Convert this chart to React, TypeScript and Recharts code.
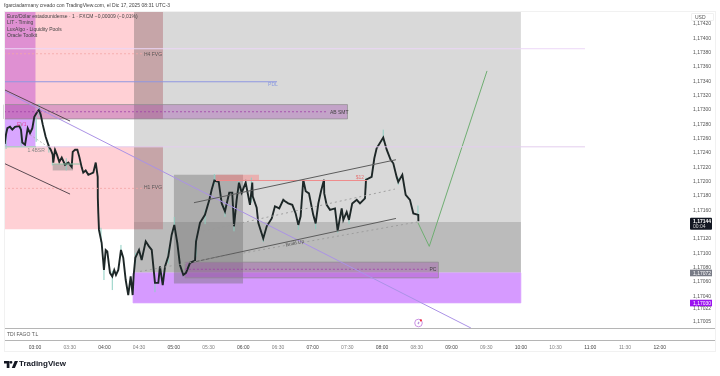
import React from "react";
import { ComposedChart, Line, XAxis, YAxis, ReferenceArea, ReferenceLine, ReferenceDot } from "recharts";

// Time is minutes after midnight, price is EUR/USD.
const closeTimes = [153.8,154.9,156.1,158.4,160.4,162.7,166.4,167.9,169,171.4,173.7,175.7,177.7,179.4,182,183.5,184.9,186.7,189.2,192.1,193.6,195.3,195.8,197.3,199,201,203.1,205.9,208.8,211.7,212.6,214.6,216.6,218.3,220.4,221.7,223.8,226.1,230.4,232.5,234.2,234.3,234.7,235.3,237.6,239.6,241.1,242.5,244.8,246.8,248.5,250,252,254.3,256.3,258.4,260.6,262.7,264.4,265.3,266.7,269.9,272.2,275.7,278.5,280.9,283.7,286.6,288,290.4,292.4,295.2,298.1,300.4,303,305.3,308.2,310.5,314,318.3,319.2,322.6,326.9,330.7,332.7,335,338.8,341.4,344.2,347.9,350.5,352,354.3,356.3,358.7,362.1,365.8,367.8,368.2,371.6,373,377.3,380.3,384.6,387.4,391.1,394.6,396.1,398.9,402.4,405.3,407.6,409.6,411.9,414,416.8,420.5,422.6,424.9,427.2,429.8,430,432.1,435,439.3,441.6,445.1,446.5,449.4,451.4,454.2,458.1,460.9,465.2,466.1,471,473.3,475.3,481,484,487.4,489.7,492.6,494,497.5,500.4,504.1,507,511.3,511.4];
const closePrices = [1.17252,1.17265,1.17274,1.17276,1.17272,1.17276,1.17277,1.17272,1.17254,1.17251,1.17274,1.17267,1.17274,1.1729,1.17297,1.173,1.17293,1.17279,1.17262,1.17248,1.17244,1.17237,1.17226,1.17244,1.17237,1.17227,1.17233,1.17223,1.17226,1.1722,1.17241,1.17244,1.17244,1.17234,1.17219,1.17212,1.17215,1.17209,1.17212,1.17226,1.17206,1.17177,1.17156,1.17132,1.17114,1.17076,1.17104,1.17102,1.17072,1.17067,1.17076,1.17069,1.17076,1.17104,1.17093,1.17062,1.17041,1.17067,1.17041,1.17069,1.17093,1.17104,1.1709,1.17116,1.17109,1.17104,1.17058,1.17058,1.17081,1.17055,1.17081,1.17095,1.17125,1.17139,1.17114,1.17083,1.17069,1.17072,1.17086,1.17089,1.17116,1.17142,1.17153,1.17174,1.17188,1.17201,1.17199,1.17169,1.17158,1.17184,1.17184,1.17137,1.17174,1.17198,1.17184,1.17198,1.17167,1.17198,1.17179,1.17163,1.17142,1.1712,1.17137,1.17148,1.17165,1.17162,1.17174,1.17172,1.17169,1.17167,1.17155,1.17139,1.17151,1.17202,1.17186,1.17183,1.17153,1.17141,1.17169,1.17186,1.17202,1.17183,1.17167,1.1716,1.17162,1.17131,1.17162,1.17146,1.17157,1.17146,1.17169,1.17174,1.17169,1.17176,1.17202,1.17206,1.17232,1.17246,1.17261,1.17244,1.1723,1.17225,1.17206,1.17199,1.17209,1.17181,1.17174,1.17155,1.17153,1.17144];

const wickTimes = [155,168,181,183.5,192,195,207,237,239.6,246.8,254.3,267,283.7,295.2,300.4,319.2,327,335,344.2,352,356,367,377.3,407.6,422.6,441.6,451.4,466.1,481,494,511];
const wickLows = [1.17245,1.17248,1.17255,1.1729,1.1724,1.17222,1.17215,1.17115,1.17062,1.17048,1.17095,1.17085,1.17045,1.17085,1.17130,1.17095,1.17140,1.17195,1.1715,1.1713,1.17185,1.1717,1.17115,1.17132,1.17133,1.17128,1.1714,1.1719,1.17255,1.17195,1.1715];
const wickHighs = [1.17272,1.17282,1.1729,1.17308,1.17252,1.1724,1.17232,1.17135,1.1709,1.17075,1.17111,1.17100,1.1706,1.17105,1.1715,1.1712,1.1716,1.1721,1.17165,1.1715,1.172,1.17205,1.17125,1.17145,1.17148,1.17135,1.1715,1.17205,1.17272,1.17205,1.17166];

const projectionTimes = [511, 520.8, 570.7];
const projectionPrices = [1.17142, 1.17109, 1.17354];

const timeTicks = [180,210,240,270,300,330,360,390,420,450,480,510,540,570,600,630,660,690,720];
const priceTicks = [1.1742,1.174,1.1738,1.1736,1.1734,1.1732,1.173,1.1728,1.1726,1.1724,1.1722,1.172,1.1718,1.1716,1.17144,1.1712,1.171,1.1708,1.17072,1.1706,1.1704,1.1703,1.17022,1.17005];
const priceBadges: Record<string, { fill: string; sub?: string }> = {
  "1.17144": { fill: "#131722", sub: "00:04" },
  "1.17072": { fill: "#787b86" },
  "1.1703": { fill: "#9c12f0" },
};

const T0 = 153.2, T1 = 745.3, P0 = 1.16995, P1 = 1.174377;

const zoneX1 = [265.6, 265.6, 153.2, 153.2, 265.6, 265.6, 264.7, 153.2, 153.2, 300.1, 195.3, 336.4, 153.2, 309.6];
const zoneX2 = [600, 600, 290.6, 290.6, 290.6, 290.6, 600, 180.4, 180.4, 359.8, 212.8, 373.6, 450.1, 528.7];
const zoneP1 = [1.17072, 1.17072, 1.17287, 1.17133, 1.17287, 1.17133, 1.17030, 1.17287, 1.17248, 1.17057, 1.17215, 1.17201, 1.17287, 1.17065];
const zoneP2 = [P1, 1.17143, P1, 1.17248, P1, 1.17248, 1.17072, P1, 1.17287, 1.17209, 1.17224, 1.17209, 1.17307, 1.17087];
const zoneFill = ["#8c8c8c","#808080","#ff8a96","#ff8a96","#787878","#787878","#d69aff","#c050d0","#d9a6ff","#707070","#8a8a8a","#ff7878","#9a3fa8","#9a3fa8"];
const zoneAlpha = [0.33, 0.34, 0.4, 0.4, 0.3, 0.3, 1, 0.5, 1, 0.42, 0.5, 0.42, 0.35, 0.35];
const zoneEdge = ["none","none","none","none","none","none","#dba8ff","none","none","none","none","none","#8f8f8f","#8f8f8f"];

const segT1 = [153.2,153.2,153.2,153.2,153.2,153.2,153.2,153.2,309.6,336.4,153.2,153.2,195.6,317.4,316.8,325.2,270.8,175.7];
const segT2 = [655.4,655.4,389.2,290.6,290.6,433.2,210.3,210.3,519.7,466.9,556.8,180.9,218.9,492,492,491.1,510.2,191.2];
const segP1 = [1.17385,1.17248,1.17339,1.17378,1.1719,1.17297,1.17328,1.17225,1.17077,1.17201,1.17326,1.17248,1.17224,1.1717,1.17087,1.1713,1.17074,1.17265];
const segP2 = [1.17385,1.17248,1.17339,1.17378,1.1719,1.17297,1.17284,1.17182,1.17077,1.17201,P0,1.17248,1.17224,1.1723,1.17148,1.17189,1.17143,1.17248];
const segColor = ["#ecd7f7","#e3cdee","#8f97e0","#f4a6a6","#f4a6a6","#a040a8","#5a4a52","#5a4a52","#a040a8","#ee8b8b","#ab92e6","#9cc9b4","#8fc3a6","#5c5c5c","#5c5c5c","#9a9a9a","#9a9a9a","#a8a8a8"];
const segDash = ["","","","2 2","2 2","2 2","","","2 2","","","","","","","2 3","2 3","2 2"];
const segWidth = [1,1,1.1,0.8,0.8,0.8,1,1,0.8,1,1,1,1,1,1,0.9,0.9,0.8];

const noteTexts = ["H4 FVG","H1 FVG","AB SMT","PC","Build Up","$12","PDL","1.4BSR","EV1"];
const noteTimes = [282,282,443,524,404.7,460.9,385.7,181,168.5];
const notePrices = [1.17378,1.17191,1.17297,1.17077,1.17114,1.17206,1.17336,1.17244,1.17279];
const noteColors = ["#555","#555","#444","#444","#555","#e57373","#8a9be0","#888","#e0479e"];
const noteTilt = [0,0,0,0,-12,0,0,0,0];

const rows = closeTimes.map((t, i) => ({ t, close: closePrices[i] }));
const projection = projectionTimes.map((t, i) => ({ t, close: projectionPrices[i] }));
const FONT = '"Liberation Sans", Arial, sans-serif';

const hhmm = (v: number) => `${String(Math.floor(v / 60)).padStart(2, "0")}:${String(v % 60).padStart(2, "0")}`;
const priceText = (v: number) => v.toFixed(5).replace(".", ",");

const TimeTick = ({ x, payload }: any) => (
  <text x={x} y={348.6} textAnchor="middle" fontFamily={FONT} fontSize={5} fill={payload.value % 60 === 0 ? "#444" : "#808080"}>
    {hhmm(payload.value)}
  </text>
);

const PriceTick = ({ x, y, payload }: any) => {
  const badge = priceBadges[String(payload.value)];
  const lx = 692;
  if (!badge) {
    return <text x={lx + 1} y={y + 1.8} fontFamily={FONT} fontSize={5} fill="#555">{priceText(payload.value)}</text>;
  }
  if (badge.sub) {
    return (
      <g>
        <rect x={lx - 2} y={y - 3.5} width={22} height={12} rx={1} fill={badge.fill} />
        <text x={lx + 1} y={y + 1.6} fontFamily={FONT} fontSize={5} fontWeight={700} fill="#fff">{priceText(payload.value)}</text>
        <text x={lx + 1} y={y + 7} fontFamily={FONT} fontSize={5} fill="#d6d6d6">{badge.sub}</text>
      </g>
    );
  }
  return (
    <g>
      <rect x={lx - 2} y={y - 3.2} width={22} height={6.6} fill={badge.fill} />
      <text x={lx + 1} y={y + 1.8} fontFamily={FONT} fontSize={5} fill="#fff">{priceText(payload.value)}</text>
    </g>
  );
};

const NoteShape = (i: number) => ({ cx, cy }: any) => (
  <text x={cx} y={cy + 1.8} textAnchor="middle" fontFamily={FONT} fontSize={5} fill={noteColors[i]}
    transform={noteTilt[i] ? `rotate(${noteTilt[i]} ${cx} ${cy})` : undefined}>
    {noteTexts[i]}
  </text>
);

const AlertIcon = ({ cx, cy }: any) => (
  <g>
    <circle cx={cx} cy={cy} r={3.8} fill="#fff" stroke="#c586e0" strokeWidth={0.9} />
    <path d={`M${cx + 0.6} ${cy - 2}L${cx - 1.2} ${cy + 0.4}H${cx}L${cx - 0.6} ${cy + 2}L${cx + 1.2} ${cy - 0.4}H${cx}Z`} fill="#9c6ad0" />
    <circle cx={cx + 2.4} cy={cy - 2.6} r={1.1} fill="#f23645" />
  </g>
);

const text = (top: number, left: number, size: number, color: string, content: string, weight = 400) => (
  <div style={{ position: "absolute", top, left, fontFamily: FONT, fontSize: size, lineHeight: 1, color, fontWeight: weight, whiteSpace: "nowrap" }}>{content}</div>
);

export default function App() {
  return (
    <div style={{ position: "absolute", top: 0, left: 0, width: 720, height: 376, background: "#fff", overflow: "hidden", filter: "blur(0.35px)" }}>
      <ComposedChart width={720} height={376} data={rows} margin={{ top: 11, left: 4, right: 0, bottom: 18 }}>
        <XAxis dataKey="t" type="number" domain={[T0, T1]} allowDataOverflow ticks={timeTicks} interval={0} height={30} axisLine={false} tickLine={false} tick={TimeTick} />
        <YAxis type="number" orientation="right" domain={[P0, P1]} allowDataOverflow ticks={priceTicks} interval={0} width={31} axisLine={false} tickLine={false} tick={PriceTick} />
        {zoneFill.map((fill, i) => (
          <ReferenceArea key={`z${i}`} x1={zoneX1[i]} x2={zoneX2[i]} y1={zoneP1[i]} y2={zoneP2[i]} fill={fill} fillOpacity={zoneAlpha[i]} stroke={zoneEdge[i]} strokeOpacity={0.7} strokeWidth={1} />
        ))}
        {wickTimes.map((t, i) => (
          <ReferenceLine key={`w${i}`} segment={[{ x: t, y: wickLows[i] }, { x: t, y: wickHighs[i] }]} stroke="#8ecfc2" strokeWidth={1} />
        ))}
        <Line dataKey="close" type="linear" stroke="#1d2727" strokeWidth={1.9} dot={false} isAnimationActive={false} />
        <Line data={projection} dataKey="close" type="linear" stroke="#6fae72" strokeWidth={1} dot={false} isAnimationActive={false} />
        {segColor.map((color, i) => (
          <ReferenceLine key={`s${i}`} segment={[{ x: segT1[i], y: segP1[i] }, { x: segT2[i], y: segP2[i] }]} stroke={color} strokeWidth={segWidth[i]} strokeDasharray={segDash[i] || undefined} />
        ))}
        {noteTexts.map((_, i) => (
          <ReferenceDot key={`n${i}`} x={noteTimes[i]} y={notePrices[i]} r={0} shape={NoteShape(i)} />
        ))}
        <ReferenceDot x={511.5} y={1.17002} shape={AlertIcon} />
      </ComposedChart>

      <div style={{ position: "absolute", left: 4, top: 328, width: 712, height: 13, borderTop: "1px solid #b5b5b5", borderBottom: "1px solid #b5b5b5", boxSizing: "border-box" }} />
      <div style={{ position: "absolute", left: 4, top: 11, width: 712, height: 341, border: "1px solid #f1f1f1", boxSizing: "border-box" }} />
      <div style={{ position: "absolute", left: 691, top: 13, width: 23, height: 8, background: "#fff", border: "1px solid #f0f0f0", borderRadius: 1, boxSizing: "border-box" }} />
      {text(14.6, 695, 5, "#555", "USD")}
      {text(2.5, 4, 5, "#444", "fgarciadarmany creado con TradingView.com, el Dic 17, 2025 08:31 UTC-3")}
      {text(13.5, 7, 5, "#444", "Euro/Dólar estadounidense · 1 · FXCM  −0,00009 (−0,01%)")}
      {text(20.2, 7, 5, "#444", "LIT - Timing")}
      {text(26.8, 7, 5, "#444", "LuxAlgo - Liquidity Pools")}
      {text(33.4, 7, 5, "#444", "Oracle Toolkit")}
      {text(331.8, 7, 5, "#555", "TDI FAGO T.L")}
      <svg style={{ position: "absolute", left: 4, top: 360 }} width={14} height={8} viewBox="0 0 36 20">
        <path d="M14 20H7V9H0V2h14zM28 20h-8L27.5 2H36zM18 2a3.6 3.6 0 1 1 0 7.2A3.6 3.6 0 0 1 18 2z" fill="#131722" />
      </svg>
      {text(359.7, 19, 8, "#131722", "TradingView", 700)}
    </div>
  );
}
